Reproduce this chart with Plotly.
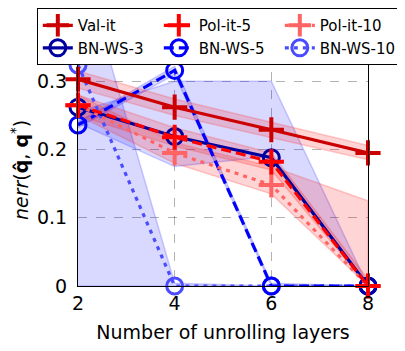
import plotly.graph_objects as go

layers = [2, 4, 6, 8]

val_it = [0.303, 0.262, 0.229, 0.195]
pol_it_5 = [0.265, 0.218, 0.182, 0.0]
pol_it_10 = [0.265, 0.195, 0.148, 0.0]
bn_ws_3 = [0.262, 0.219, 0.188, 0.0]
bn_ws_5 = [0.236, 0.316, 0.0, 0.0]
bn_ws_10 = [0.324, 0.0, 0.0, 0.0]

# shaded spread bands (lower / upper)
val_it_lo = [0.290, 0.250, 0.218, 0.185]
val_it_hi = [0.315, 0.274, 0.240, 0.206]
pol_it_5_lo = [0.250, 0.205, 0.170, 0.0]
pol_it_5_hi = [0.280, 0.232, 0.195, 0.01]
pol_it_10_lo = [0.250, 0.180, 0.135, 0.0]
pol_it_10_hi = [0.280, 0.210, 0.175, 0.125]
bn_ws_3_lo = [0.239, 0.175, 0.190, 0.0]
bn_ws_3_hi = [0.255, 0.300, 0.300, 0.0]
bn_ws_5_lo = [0.232, 0.310, 0.0, 0.0]
bn_ws_5_hi = [0.240, 0.322, 0.004, 0.0]
bn_ws_10_lo = [0.0, 0.0, 0.0, 0.0]
bn_ws_10_hi = [0.49, 0.004, 0.0, 0.0]

y_ticks = [0, 0.1, 0.2, 0.3]
y_ticklabels = ["0", "0.1", "0.2", "0.3"]
x_ticks = [2, 4, 6, 8]

FONT = "DejaVu Sans"
fig = go.Figure()

def band(lo, hi, fill, edge):
    fig.add_trace(go.Scatter(
        x=layers + layers[::-1], y=hi + lo[::-1], mode="lines",
        fill="toself", fillcolor=fill, line=dict(color=edge, width=1.5),
        hoverinfo="skip", showlegend=False))

blue_fill = "rgba(0,0,255,0.15)"
blue_edge = "rgba(60,60,255,0.25)"
red_fill = "rgba(255,0,0,0.17)"
red_edge = "rgba(255,60,60,0.25)"

band(bn_ws_10_lo, bn_ws_10_hi, blue_fill, blue_edge)
band(bn_ws_5_lo, bn_ws_5_hi, blue_fill, blue_edge)
band(bn_ws_3_lo, bn_ws_3_hi, blue_fill, blue_edge)
band(val_it_lo, val_it_hi, red_fill, red_edge)
band(pol_it_5_lo, pol_it_5_hi, red_fill, red_edge)
band(pol_it_10_lo, pol_it_10_hi, red_fill, red_edge)

DASH = "10px,5px"
DOT = "4px,5px"

def line(y, name, color, dash, symbol, rank):
    if symbol == "circle-open":
        marker = dict(symbol="circle-open", size=16, color=color, line=dict(width=3, color=color))
    else:
        marker = dict(symbol="cross-thin-open", size=18, color=color, line=dict(width=4, color=color))
    fig.add_trace(go.Scatter(
        x=layers, y=y, name=name, mode="lines+markers",
        line=dict(color=color, width=3.2, dash=dash), marker=marker,
        cliponaxis=False, legendrank=rank))

line(bn_ws_10, "BN-WS-10", "#4C4CFF", DOT, "circle-open", 6)
line(bn_ws_5, "BN-WS-5", "#0000FF", DASH, "circle-open", 5)
line(bn_ws_3, "BN-WS-3", "#0000A0", "solid", "circle-open", 4)
line(pol_it_10, "Pol-it-10", "#FF6464", DOT, "cross", 3)
line(pol_it_5, "Pol-it-5", "#FF0000", DASH, "cross", 2)
line(val_it, "Val-it", "#CC0000", "solid", "cross", 1)

fig.update_layout(
    width=397, height=343,
    margin=dict(l=70, r=37, t=46, b=65, autoexpand=False),
    paper_bgcolor="white", plot_bgcolor="white",
    font=dict(family=FONT, size=19, color="black"),
    legend=dict(
        orientation="h", x=-0.142, xanchor="left", y=1.198, yanchor="top",
        bgcolor="white", bordercolor="black", borderwidth=1,
        font=dict(size=15), entrywidth=76, entrywidthmode="pixels",
        tracegroupgap=0, itemwidth=30,
    ),
    xaxis=dict(
        range=[2, 8], tickvals=x_ticks, showgrid=True,
        gridcolor="rgba(0,0,0,0.3)", griddash="dash", gridwidth=1,
        showline=True, linecolor="black", linewidth=1, mirror=True,
        zeroline=False, ticks="",
        title=dict(text="Number of unrolling layers", standoff=12, font=dict(size=19)),
    ),
    yaxis=dict(
        range=[0, 0.34], tickvals=y_ticks, ticktext=y_ticklabels, showgrid=True,
        gridcolor="rgba(0,0,0,0.3)", griddash="dash", gridwidth=1,
        showline=True, linecolor="black", linewidth=1, mirror=True,
        zeroline=False, ticks="", ticklabelstandoff=6,
        title=dict(text="<i>nerr</i>(<b>q̂</b>, <b>q</b><sup>*</sup>)", standoff=8, font=dict(size=19)),
    ),
)

fig.write_html("out.html")
